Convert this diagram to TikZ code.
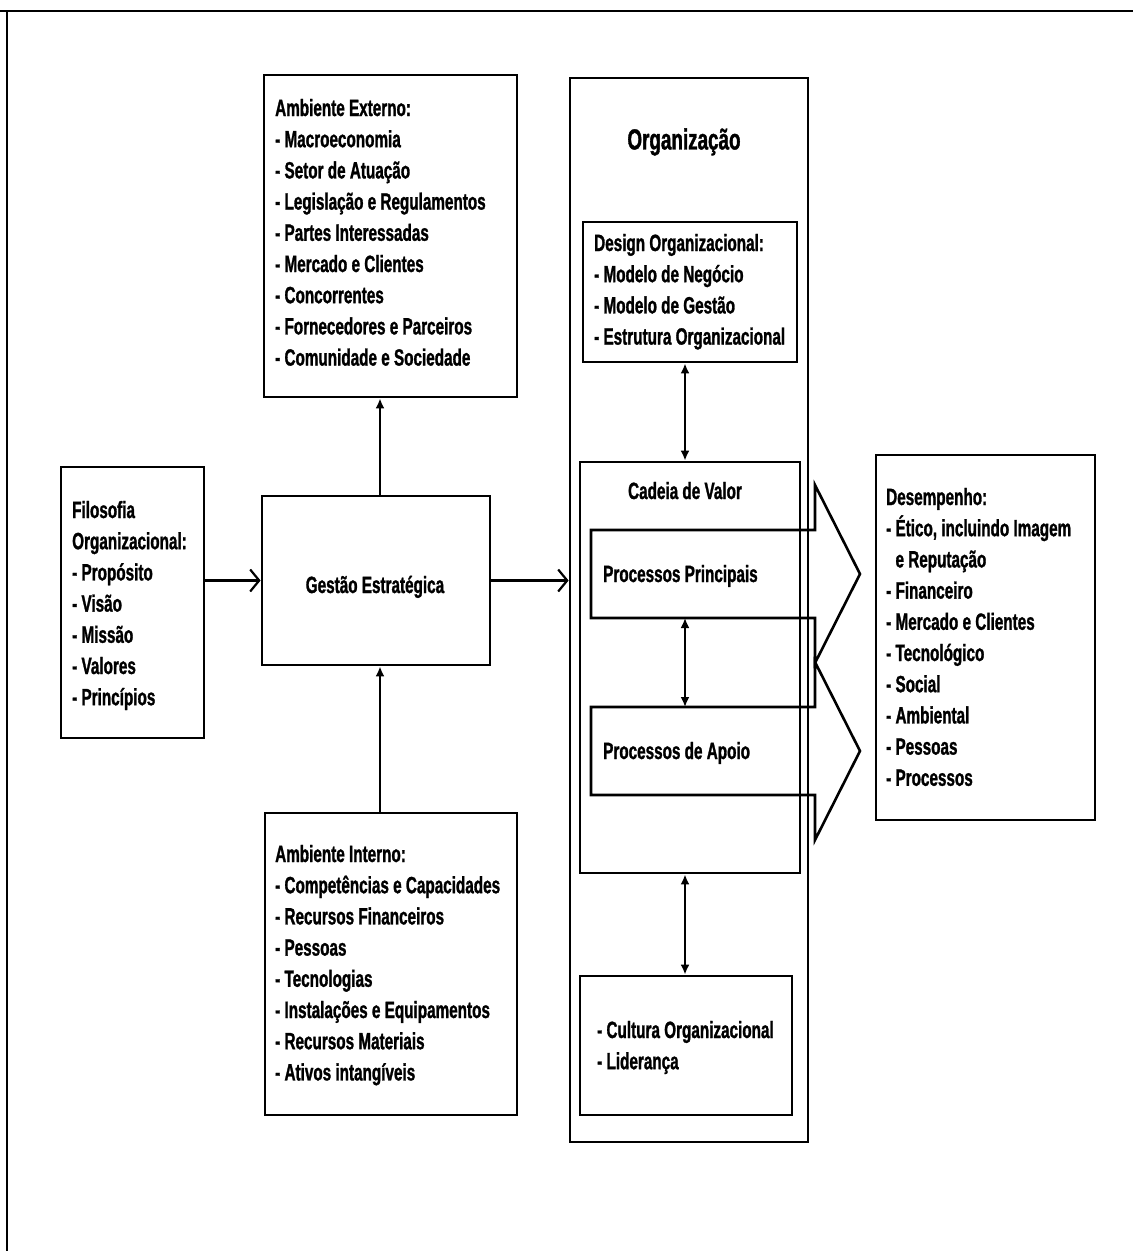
\documentclass[tikz,border=0pt]{standalone}
\usepackage{fontspec}
\setmainfont{Liberation Sans}[FakeStretch=0.65, BoldFeatures={FakeBold=1.2}]
\usetikzlibrary{positioning,arrows.meta}

\begin{document}
\begin{tikzpicture}[x=1pt, y=-1pt,
    box/.style={draw, line width=2.8pt, inner sep=0pt},
    item/.style={font=\bfseries\fontsize{23.5}{28}\selectfont, inner sep=0pt, anchor=base west},
    headtext/.style={font=\bfseries\fontsize{29}{34}\selectfont, inner sep=0pt},
    link/.style={line width=2pt, -{Latex[length=10pt,width=9pt]}},
    dlink/.style={line width=2pt, {Latex[length=10pt,width=9pt]}-{Latex[length=10pt,width=9pt]}},
    flow/.style={line width=3pt, -{Straight Barb[length=9pt,width=22pt,line width=2.2pt]}},
    procarrow/.style={line width=2.6pt, line join=miter}
]
    \useasboundingbox (0,0) rectangle (1133,1251);

    % outer frame (only top and left edges show)
    \draw[line width=2pt] (0,11) -- (1133,11);
    \draw[line width=2pt] (7,11) -- (7,1251);

    % boxes
    \node[box, minimum width=253pt, minimum height=322pt] (ext) at (390.5,236) {};
    \node[box, minimum width=143pt, minimum height=271pt] (fil) at (132.5,602.5) {};
    \node[box, minimum width=228pt, minimum height=169pt] (gest) at (376,580.5) {};
    \node[box, minimum width=252pt, minimum height=302pt] (int) at (391,964) {};
    \node[box, minimum width=238pt, minimum height=1064pt] (org) at (689,610) {};
    \node[box, minimum width=214pt, minimum height=140pt] (des) at (690,292) {};
    \node[box, minimum width=220pt, minimum height=411pt] (cad) at (690,667.5) {};
    \node[box, minimum width=212pt, minimum height=139pt] (cul) at (686,1045.5) {};
    \node[box, minimum width=219pt, minimum height=365pt] (dsp) at (985.5,637.5) {};

    % box texts, one line every 31.2pt
    \foreach \t [count=\i from 0] in {Ambiente Externo:, - Macroeconomia, - Setor de Atuação,
        - Legislação e Regulamentos, - Partes Interessadas, - Mercado e Clientes,
        - Concorrentes, - Fornecedores e Parceiros, - Comunidade e Sociedade}
        \node[item] (ext-\i) at (275,116+31.2*\i) {\t};

    \foreach \t [count=\i from 0] in {Filosofia, Organizacional:, - Propósito, - Visão,
        - Missão, - Valores, - Princípios}
        \node[item] (fil-\i) at (72,518+31.2*\i) {\t};

    \foreach \t [count=\i from 0] in {Ambiente Interno:, - Competências e Capacidades,
        - Recursos Financeiros, - Pessoas, - Tecnologias, - Instalações e Equipamentos,
        - Recursos Materiais, - Ativos intangíveis}
        \node[item] (int-\i) at (275,862+31.2*\i) {\t};

    \foreach \t [count=\i from 0] in {Desempenho:, {- Ético, incluindo Imagem},
        {\hphantom{- }e Reputação}, - Financeiro, - Mercado e Clientes, - Tecnológico,
        - Social, - Ambiental, - Pessoas, - Processos}
        \node[item] (dsp-\i) at (886,505+31.2*\i) {\t};

    \foreach \t [count=\i from 0] in {Design Organizacional:, - Modelo de Negócio,
        - Modelo de Gestão, - Estrutura Organizacional}
        \node[item] (des-\i) at (594,251+31.2*\i) {\t};

    \foreach \t [count=\i from 0] in {- Cultura Organizacional, - Liderança}
        \node[item] (cul-\i) at (597,1038+31.2*\i) {\t};

    \node[item, anchor=base] (gestlbl) at (375,593) {Gestão Estratégica};
    \node[headtext] (orgtitle) at (684,142) {Organização};
    \node[item, anchor=base] (cadtitle) at (685,499) {Cadeia de Valor};

    % process arrows inside the value chain
    \foreach \n/\y/\t in {pp/574/Processos Principais, pa/751/Processos de Apoio} {
        \draw[procarrow] (591,\y-44) -- (815,\y-44) -- (815,\y-89) -- (860,\y)
            -- (815,\y+89) -- (815,\y+44) -- (591,\y+44) -- cycle;
        \coordinate (\n-top) at (685,\y-44);
        \coordinate (\n-bot) at (685,\y+44);
        \node[item] (\n) at (603,\y+8) {\t};
    }

    % connectors
    \coordinate (axis) at (685,0);
    \coordinate (gaxis) at (380,0);
    \draw[dlink] (des.south -| axis) -- (cad.north -| axis);
    \draw[dlink] (pp-bot) -- (pa-top);
    \draw[dlink] (cad.south -| axis) -- (cul.north -| axis);
    \draw[link] (gest.north -| gaxis) -- (ext.south -| gaxis);
    \draw[link] (int.north -| gaxis) -- (gest.south -| gaxis);
    \draw[flow] (fil.east |- gest.west) -- (gest.west);
    \draw[flow] (gest.east) -- (gest.east -| org.west);
\end{tikzpicture}
\end{document}
